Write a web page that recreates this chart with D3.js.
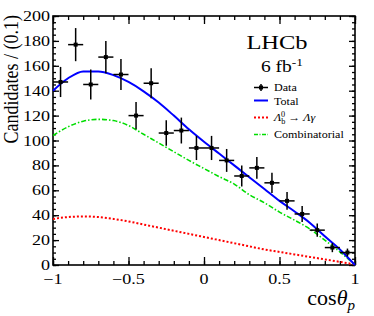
<!DOCTYPE html>
<html>
<head>
<meta charset="utf-8">
<script src="https://cdn.jsdelivr.net/npm/d3@7"></script>
<style>
  body { margin: 0; background: #fff; }
  text { font-family: "Liberation Serif", "DejaVu Serif", serif; fill: #000; }
</style>
</head>
<body>
<div id="chart"></div>
<script>
// bins of cos(theta_p), width 0.1
const binCenters = [-0.95, -0.85, -0.75, -0.65, -0.55, -0.45, -0.35, -0.25, -0.15, -0.05,
                    0.05, 0.15, 0.25, 0.35, 0.45, 0.55, 0.65, 0.75, 0.85, 0.95];
const counts = [147, 177, 145, 167, 153, 120, 146, 106, 108, 94,
                94, 84, 71.5, 78, 66, 51.5, 41, 28, 14, 10];
const errors = [12.1, 13.3, 12, 12.9, 12.4, 11, 12.1, 10.3, 10.4, 9.7,
                9.7, 9.2, 8.5, 8.8, 8.1, 7.2, 6.4, 5.3, 3.7, 3.2];

// fit curves
const curveX = [-1, -0.9, -0.8, -0.7, -0.6, -0.5, -0.4, -0.3, -0.2, -0.1, 0,
                0.1, 0.2, 0.3, 0.4, 0.5, 0.6, 0.7, 0.8, 0.9, 1];
const totalY = [140, 150, 155.5, 155.5, 152.5, 147, 139.5, 130.5, 120, 109, 99,
                89.5, 80, 70.5, 61, 51.5, 43, 34, 23, 12.5, 0];
const signalY = [37, 38.5, 39, 38.5, 37, 35, 32.5, 30, 27.5, 25, 22.5,
                 20, 17.5, 15, 12.5, 10.5, 8.5, 6.5, 4.5, 2.5, 0.5];
const combY = [104, 111, 115.5, 117, 116, 112, 105, 98, 91, 84, 77.5,
               71, 65, 56.5, 50, 42.5, 36, 29, 20, 10.5, 0];

const xMajor = [-1, -0.5, 0, 0.5, 1];
const yMajor = [0, 20, 40, 60, 80, 100, 120, 140, 160, 180, 200];

const W = 374, H = 316;
const SX = 1.29; // picture is stretched sideways

const svg = d3.select("#chart").append("svg")
  .attr("width", W).attr("height", H);

const x = d3.scaleLinear().domain([-1, 1]).range([53, 355]);
const y = d3.scaleLinear().domain([0, 200]).range([265, 16]);

function label(g, px, py, size, sx, anchor) {
  return g.append("g")
    .attr("transform", `translate(${px},${py}) scale(${sx},1)`)
    .append("text")
    .attr("font-size", size)
    .attr("text-anchor", anchor || "start");
}

// ticks, all pointing in
const xMinor = d3.range(-10, 11).map(d => d / 10);
const yMinor = d3.range(0, 41).map(d => d * 5);

function ticks(axisFn, scale, vals, len, pos) {
  svg.append("g")
    .attr("transform", pos)
    .call(axisFn(scale).tickValues(vals).tickSizeInner(-len).tickSizeOuter(0).tickFormat(""))
    .call(g => g.select(".domain").remove())
    .call(g => g.selectAll("line").attr("stroke", "#000").attr("stroke-width", 1.3));
}
ticks(d3.axisBottom, x, xMinor, 4, `translate(0,${y(0)})`);
ticks(d3.axisBottom, x, xMajor, 8, `translate(0,${y(0)})`);
ticks(d3.axisTop, x, xMinor, 4, `translate(0,${y(200)})`);
ticks(d3.axisTop, x, xMajor, 8, `translate(0,${y(200)})`);
ticks(d3.axisLeft, y, yMinor, 3, `translate(${x(-1)},0)`);
ticks(d3.axisLeft, y, yMajor, 6, `translate(${x(-1)},0)`);
ticks(d3.axisRight, y, yMinor, 3, `translate(${x(1)},0)`);
ticks(d3.axisRight, y, yMajor, 6, `translate(${x(1)},0)`);

svg.append("rect")
  .attr("x", x(-1)).attr("y", y(200))
  .attr("width", x(1) - x(-1)).attr("height", y(0) - y(200))
  .attr("fill", "none").attr("stroke", "#000").attr("stroke-width", 1.6);

// tick labels
const fmt = d3.format("");
xMajor.forEach(v => {
  label(svg, x(v), 284, 14, SX, "middle").text(fmt(v));
});
yMajor.forEach(v => {
  label(svg, 50, y(v) + 5, 14, SX, "end").text(v);
});

// axis titles
svg.append("g")
  .attr("transform", `translate(17.5,15) scale(1.12,1) rotate(-90)`)
  .append("text")
  .attr("font-size", 18).attr("text-anchor", "end")
  .text("Candidates / (0.1)");

const xt = label(svg, 355, 305, 22, 1, "end");
xt.append("tspan").text("cos");
xt.append("tspan").attr("font-style", "italic").text("θ");
xt.append("tspan").attr("font-style", "italic").attr("font-size", 15).attr("dy", 5).text("p");

// curves
const line = d3.line().x(d => x(d[0])).y(d => y(d[1])).curve(d3.curveMonotoneX);
const curves = [
  { ys: signalY, color: "#ff0000", width: 2, dash: "2,2" },
  { ys: combY, color: "#00dd00", width: 1.6, dash: "5,2,1.5,2" },
  { ys: totalY, color: "#0000ff", width: 2, dash: null }
];
curves.forEach(c => {
  svg.append("path")
    .datum(curveX.map((v, i) => [v, c.ys[i]]))
    .attr("d", line)
    .attr("fill", "none")
    .attr("stroke", c.color)
    .attr("stroke-width", c.width)
    .attr("stroke-dasharray", c.dash);
});

// data points
const pts = svg.append("g").attr("stroke", "#000").attr("stroke-width", 1.5);
binCenters.forEach((c, i) => {
  pts.append("line")
    .attr("x1", x(c - 0.05)).attr("x2", x(c + 0.05))
    .attr("y1", y(counts[i])).attr("y2", y(counts[i]));
  pts.append("line")
    .attr("x1", x(c)).attr("x2", x(c))
    .attr("y1", y(counts[i] - errors[i])).attr("y2", y(counts[i] + errors[i]));
  pts.append("rect")
    .attr("x", x(c) - 2).attr("y", y(counts[i]) - 2)
    .attr("width", 4).attr("height", 4).attr("fill", "#000").attr("stroke", "none");
});

// LHCb label
label(svg, 277, 49, 19, SX, "middle").text("LHCb");
const lumi = label(svg, 282, 72, 16, 1.22, "middle");
lumi.append("tspan").text("6 fb");
lumi.append("tspan").attr("font-size", 11).attr("dy", -6).text("-1");

// legend
const legX0 = 254, legX1 = 268, legT = 274;
const leg = svg.append("g");
// Data
leg.append("line").attr("x1", legX0).attr("x2", legX1).attr("y1", 87.5).attr("y2", 87.5)
  .attr("stroke", "#000").attr("stroke-width", 1.5);
leg.append("line").attr("x1", (legX0 + legX1) / 2).attr("x2", (legX0 + legX1) / 2)
  .attr("y1", 84).attr("y2", 91).attr("stroke", "#000").attr("stroke-width", 1.5);
leg.append("rect").attr("x", (legX0 + legX1) / 2 - 2).attr("y", 85.5)
  .attr("width", 4).attr("height", 4).attr("fill", "#000");
label(leg, legT, 91, 11, 1.1).text("Data");
// Total
leg.append("line").attr("x1", legX0).attr("x2", legX1).attr("y1", 100.5).attr("y2", 100.5)
  .attr("stroke", "#0000ff").attr("stroke-width", 2);
label(leg, legT, 104.5, 11, 1.1).text("Total");
// signal
leg.append("line").attr("x1", legX0).attr("x2", legX1).attr("y1", 117.5).attr("y2", 117.5)
  .attr("stroke", "#ff0000").attr("stroke-width", 2).attr("stroke-dasharray", "2,2");
const sig = label(leg, legT, 121, 11, 1.1);
sig.append("tspan").attr("font-style", "italic").text("Λ");
sig.append("tspan").attr("font-size", 7.5).attr("dy", 2.5).text("b");
sig.append("tspan").attr("font-size", 7.5).attr("dx", -4).attr("dy", -7).text("0");
sig.append("tspan").attr("dy", 4.5).text(" → ");
sig.append("tspan").attr("font-style", "italic").text("Λγ");
// combinatorial
leg.append("line").attr("x1", legX0).attr("x2", legX1).attr("y1", 134.5).attr("y2", 134.5)
  .attr("stroke", "#00dd00").attr("stroke-width", 1.6).attr("stroke-dasharray", "4,1.5,1,1.5");
label(leg, legT, 138, 11, 1.1).text("Combinatorial");
</script>
</body>
</html>
